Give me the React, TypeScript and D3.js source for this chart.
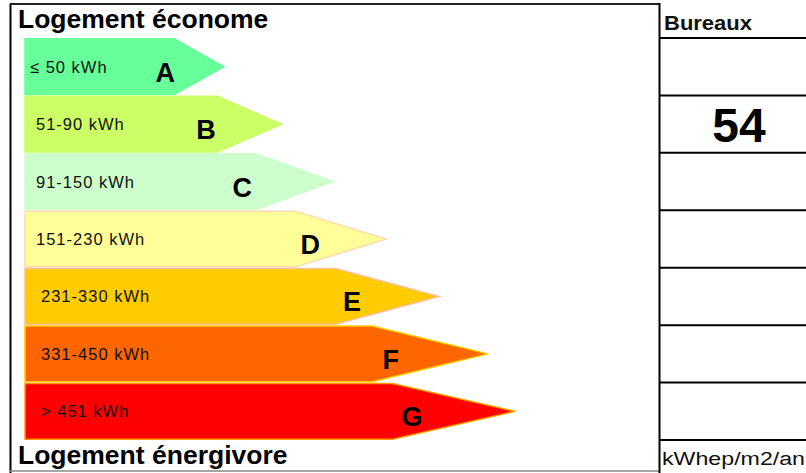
import React from "react";
import * as d3 from "d3";

const classes = ["A", "B", "C", "D", "E", "F", "G"];
const rangeLabels = ["≤ 50 kWh", "51-90 kWh", "91-150 kWh", "151-230 kWh", "231-330 kWh", "331-450 kWh", "> 451 kWh"];
const barLengths = [40.6, 52.4, 62.9, 73.7, 84.5, 94.5, 100];
const fills = ["#66FF99", "#CCFF66", "#CCFFCC", "#FFFF99", "#FFCC00", "#FF6600", "#FF0000"];
const strokes = ["#66FF99", "#CCFF66", "#CCFFCC", "#FFD9B3", "#FFBF99", "#FFCC00", "#FF9900"];
const topTitle = "Logement économe";
const bottomTitle = "Logement énergivore";
const columnTitle = "Bureaux";
const unitLabel = "kWhep/m2/an";
const bureauxValue = 54;
const bureauxClass = "B";

const W = 806;
const H = 473;

export default function App() {
  const x = d3.scaleLinear().domain([0, 100]).range([25, 515]);
  const y = d3.scaleBand<string>().domain(classes).range([38, 440]).paddingInner(0.03).paddingOuter(0.015);
  const step = y.step();
  const bw = y.bandwidth();
  const gap = step - bw;
  const rowTop = (c: string) => (y(c) as number) - gap / 2;
  const rowLines = [...classes.map(rowTop), rowTop("G") + step];
  const font = "'Liberation Sans', Arial, Helvetica, sans-serif";

  return (
    <svg width={W} height={H} style={{ position: "absolute", left: 0, top: 0, background: "#fff" }} fontFamily={font}>
      <rect x={0} y={0} width={W} height={H} fill="#fff" />
      {classes.map((c, i) => {
        const y0 = y(c) as number;
        const y1 = y0 + bw;
        const ym = y0 + bw / 2;
        const x0 = x(0);
        const tip = x(barLengths[i]);
        const shoulder = x(barLengths[i] * 0.75);
        const path = `M${x0},${y0} L${shoulder},${y0} L${tip},${ym} L${shoulder},${y1} L${x0},${y1} Z`;
        const letterX = x(barLengths[i] * (i < 3 ? 0.705 : 0.79));
        return (
          <g key={c}>
            <path d={path} fill={fills[i]} stroke={strokes[i]} strokeWidth={1.5} strokeLinejoin="miter" />
            <text x={i === 0 ? 30 : i < 4 ? 36 : 41} y={ym + 6} fontSize={16.5} letterSpacing={1} fill="#111">
              {rangeLabels[i]}
            </text>
            <text x={letterX} y={ym + 15} fontSize={27} fontWeight="bold" textAnchor="middle" fill="#000">
              {c}
            </text>
          </g>
        );
      })}

      {/* frame */}
      <line x1={10.5} y1={3.5} x2={10.5} y2={H} stroke="#000" strokeWidth={2} />
      <line x1={10} y1={4} x2={660} y2={4} stroke="#222" strokeWidth={2} />
      <line x1={10} y1={471} x2={660} y2={471} stroke="#888" strokeWidth={1.5} />
      <line x1={659.5} y1={3} x2={659.5} y2={H} stroke="#000" strokeWidth={2} />

      <text x={18} y={28} fontSize={26.5} fontWeight="bold" fill="#000">{topTitle}</text>
      <text x={18} y={464} fontSize={26.5} fontWeight="bold" fill="#000">{bottomTitle}</text>

      {/* right column */}
      <text x={664} y={30} fontSize={20} fontWeight="bold" fill="#111" textLength={88} lengthAdjust="spacingAndGlyphs">{columnTitle}</text>
      {rowLines.map((ly, i) => (
        <line key={i} x1={660} y1={ly} x2={W} y2={ly} stroke="#000" strokeWidth={2} />
      ))}
      <text
        x={739}
        y={(y(bureauxClass) as number) + bw / 2 + 18}
        fontSize={48}
        fontWeight="bold"
        textAnchor="middle"
        fill="#000"
      >
        {bureauxValue}
      </text>
      <text x={662} y={465} fontSize={18} textLength={143} lengthAdjust="spacingAndGlyphs" fill="#111">
        {unitLabel}
      </text>
    </svg>
  );
}
